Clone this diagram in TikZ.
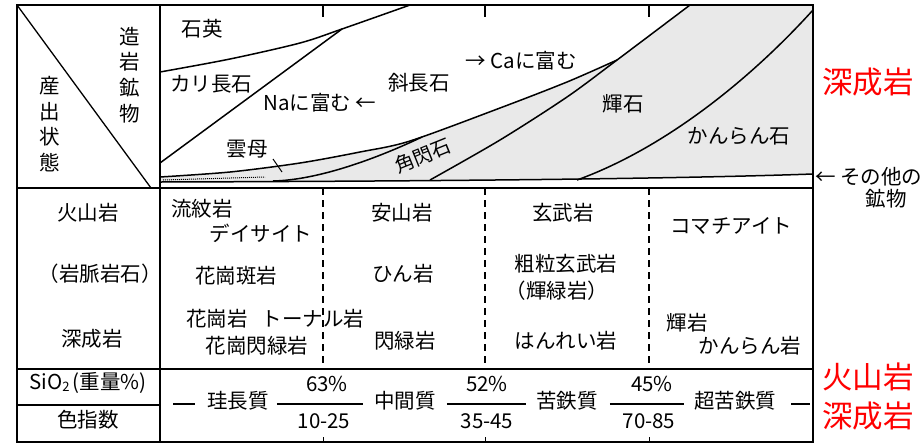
\documentclass[tikz,border=0pt]{standalone}
\usepackage{fontspec}
\setmainfont{Noto Sans CJK JP}
\begin{document}
\begin{tikzpicture}[x=1pt,y=-1pt,
  lbl/.style={font=\fontsize{20.5}{22}\selectfont, inner sep=0pt, text height=0.88em, text depth=0.12em},
  vlbl/.style={font=\fontsize{20.5}{25.7}\selectfont, inner sep=0pt, align=center},
  redlbl/.style={font=\fontsize{30.5}{32}\selectfont, text=red, inner sep=0pt, text height=0.88em, text depth=0.12em},
  frame/.style={line width=1.8pt},
  rule/.style={line width=1.3pt},
  bound/.style={line width=1.5pt},
  divider/.style={line width=1.2pt, dash pattern=on 7pt off 5pt},
  sep/.style={line width=1.3pt},
  mafic/.style={fill={rgb,255:red,233;green,233;blue,233}},
]
\useasboundingbox (0,0) rectangle (923,445);

% mafic mineral region (grey)
\fill[mafic] plot[smooth] coordinates {(160,177) (230,172) (300,163) (360,152) (410,141) (500,108) (567,82) (617,60)}
  -- (690,5) -- (813,5) -- (813,174) .. controls (700,178) and (500,181) .. (160,182) -- cycle;

% mineral boundaries
\draw[bound] plot[smooth] coordinates {(160,72) (230,59) (300,43) (342,29) (410,5)};
\coordinate (kfs0) at (160,163);
\coordinate (kfs1) at (342,29);
\draw[bound] (kfs0) -- (kfs1);
\draw[bound] plot[smooth] coordinates {(160,177) (230,172) (300,163) (360,152) (410,141) (500,108) (567,82) (617,60)};
\draw[bound] (273,181) .. controls (320,180) and (380,157) .. (422,137);
\draw[bound] plot[smooth] coordinates {(430,180) (500,140) (567,97) (617,60) (690,5)};
\draw[bound] (577,180) .. controls (660,150) and (745,85) .. (813,10);
\draw[bound] (813,174) .. controls (700,178) and (500,181) .. (160,182);
\draw[line width=1pt, densely dotted] (163,180) -- (265,177);

% frame and rules
\draw[frame] (17,5) rectangle (813,442);
\draw[rule] (160,5) -- (160,442);
\draw[rule] (17,5) -- (151,188);
\draw[rule] (17,188) -- (813,188);
\draw[rule] (17,369) -- (813,369);
\draw[rule] (17,405) -- (160,405);

% ticks and dashed dividers
\foreach \xx in {323,485,649}{
  \draw[rule] (\xx,5) -- (\xx,17);
  \draw[divider] (\xx,188) -- (\xx,369);
  \draw[line width=1pt] (\xx,442) -- (\xx,437);
}

% header
\node[vlbl] (sanshutsu) at (50,124) {産\\出\\状\\態};
\node[vlbl] (zougan) at (130,75) {造\\岩\\鉱\\物};

% minerals
\node[lbl] (sekiei) at (202,33) {石英};
\node[lbl] (karich) at (211,88) {カリ長石};
\node[lbl] (na) at (320,107) {Naに富む ←};
\node[lbl] (shachou) at (419,87) {斜長石};
\node[lbl] (ca) at (521,65) {→ Caに富む};
\node[lbl] (unmo) at (247,153) {雲母};
\coordinate (unmoL) at (282,172);
\draw[line width=1pt] (273,159) -- (unmoL);
\node[lbl, rotate=22, font=\fontsize{19.5}{21}\selectfont] (kakusen) at (424,159) {角閃石};
\node[lbl] (kiseki) at (623,108) {輝石};
\node[lbl] (kanran) at (739,140) {かんらん石};

% rock rows
\node[lbl] (kazan) at (88,217) {火山岩};
\node[lbl] (ganmyaku) at (100,278) {（岩脈岩石）};
\node[lbl] (shinsei) at (92,343) {深成岩};
\node[lbl] (ryumon) at (202,213) {流紋岩};
\node[lbl] (dacite) at (261,238) {デイサイト};
\node[lbl] (kahan) at (236,280) {花崗斑岩};
\node[lbl] (kakou) at (217,323) {花崗岩};
\node[lbl] (tonal) at (313,323) {トーナル岩};
\node[lbl] (kasen) at (257,350) {花崗閃緑岩};
\node[lbl] (anzan) at (402,217) {安山岩};
\node[lbl] (hin) at (403,278) {ひん岩};
\node[lbl] (senryoku) at (405,345) {閃緑岩};
\node[lbl] (genbu) at (563,217) {玄武岩};
\node[lbl] (soryu) at (566,268) {粗粒玄武岩};
\node[lbl] (kiryoku) at (557,295) {（輝緑岩）};
\node[lbl] (hanrei) at (566,345) {はんれい岩};
\node[lbl] (komachi) at (731,230) {コマチアイト};
\node[lbl] (kigan) at (687,327) {輝岩};
\node[lbl] (kanrangan) at (750,350) {かんらん岩};

% SiO2 / colour index rows
\node[lbl] (sio2) at (88,386) {SiO{\fontsize{13}{13}\selectfont\raisebox{-0.25ex}{2}}\,(重量\%)};
\node[lbl] (shikisu) at (88,424) {色指数};
\node[lbl] (keichou) at (238,405) {珪長質};
\node[lbl] (chukan) at (405,405) {中間質};
\node[lbl] (kutetsu) at (567,405) {苦鉄質};
\node[lbl] (chokutetsu) at (735,405) {超苦鉄質};
\node[lbl] (p63) at (327,388) {63\%};
\node[lbl] (c1) at (324,425) {10-25};
\node[lbl] (p52) at (487,388) {52\%};
\node[lbl] (c2) at (487,425) {35-45};
\node[lbl] (p45) at (652,388) {45\%};
\node[lbl] (c3) at (649,425) {70-85};
\coordinate (d0) at (173,404);
\coordinate (d9) at (810,404);
\draw[sep] (d0) -- ([xshift=-12pt]keichou.west |- d0);
\draw[sep] ([xshift=8pt]keichou.east |- d0) -- ([xshift=-11pt]chukan.west |- d0);
\draw[sep] ([xshift=11pt]chukan.east |- d0) -- ([xshift=-10pt]kutetsu.west |- d0);
\draw[sep] ([xshift=12pt]kutetsu.east |- d0) -- ([xshift=-10pt]chokutetsu.west |- d0);
\draw[sep] ([xshift=15pt]chokutetsu.east |- d0) -- (d9);

% right side labels
\node[redlbl] (rshinsei) at (868,90) {深成岩};
\node[redlbl] (rkazan) at (868,385) {火山岩};
\node[redlbl] (rshinsei2) at (868,424) {深成岩};
\node[lbl, anchor=west] (sonota) at (815,181) {← その他の};
\node[lbl] (koubutsu) at (886,203) {鉱物};
\end{tikzpicture}
\end{document}
